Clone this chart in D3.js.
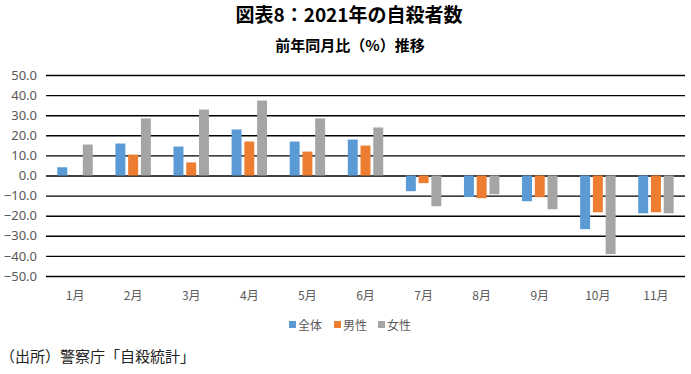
<!DOCTYPE html>
<html>
<head>
<meta charset="utf-8">
<script src="https://cdn.jsdelivr.net/npm/d3@7"></script>
<style>
  body { margin: 0; background: #fff; }
  text { font-family: "Noto Sans CJK JP", "Noto Sans", sans-serif; }
</style>
</head>
<body>
<svg id="chart" width="691" height="374"></svg>
<script>
// 月ラベル
const months = ['1月', '2月', '3月', '4月', '5月', '6月', '7月', '8月', '9月', '10月', '11月'];
const seriesNames = ['全体', '男性', '女性'];
const seriesColors = ['#5b9bd5', '#ed7d31', '#a5a5a5'];
// 前年同月比（%）
const total = [4.1, 15.9, 14.4, 22.9, 16.9, 17.9, -7.8, -10.7, -12.8, -26.7, -18.8];
const male = [0.0, 10.4, 6.5, 16.9, 11.9, 14.9, -3.8, -11.3, -10.8, -18.3, -18.3];
const female = [15.4, 28.4, 32.8, 37.3, 28.4, 23.9, -15.3, -9.3, -16.8, -39.1, -18.8];
const yTicks = [50, 40, 30, 20, 10, 0, -10, -20, -30, -40, -50];

const svg = d3.select('#chart');
const plotLeft = 46, plotRight = 685, plotTop = 75, plotBottom = 276;

let x = d3.scaleBand().domain(months).range([plotLeft, plotRight]).paddingInner(0.39).paddingOuter(0.195);
let xs = d3.scaleBand().domain(seriesNames).range([0, x.bandwidth()]).paddingInner(0.22);
let y = d3.scaleLinear().domain([-50, 50]).range([plotBottom, plotTop]);

// タイトル
svg.append('text').attr('x', 349).attr('y', 22).attr('text-anchor', 'middle')
    .attr('font-size', 19).attr('font-weight', 'bold').text('図表8：2021年の自殺者数');
svg.append('text').attr('x', 350).attr('y', 51).attr('text-anchor', 'middle')
    .attr('font-size', 15).attr('font-weight', 'bold').text('前年同月比（%）推移');

// グリッド
let yAxis = svg.append('g').attr('transform', 'translate(' + plotLeft + ',0)')
    .call(d3.axisLeft(y).tickValues(yTicks).tickSize(-(plotRight - plotLeft)).tickPadding(9).tickFormat(d3.format('.1f')));
yAxis.select('.domain').remove();
yAxis.selectAll('line').attr('stroke', '#000').attr('stroke-width', 1.4);
yAxis.selectAll('text').attr('fill', '#595959').attr('font-size', 13)
    .style('font-family', '"Noto Sans", sans-serif');

let xAxis = svg.append('g').attr('transform', 'translate(0,' + (plotBottom + 15) + ')')
    .call(d3.axisBottom(x).tickSize(0).tickPadding(0));
xAxis.select('.domain').remove();
xAxis.selectAll('text').attr('fill', '#595959').attr('font-size', 12);

// バー
let dataSets = [total, male, female];
dataSets.forEach((vals, si) => {
    svg.append('g').selectAll('rect').data(vals).enter().append('rect')
        .attr('x', (d, i) => x(months[i]) + xs(seriesNames[si]))
        .attr('width', xs.bandwidth())
        .attr('y', d => y(Math.max(d, 0)))
        .attr('height', d => Math.abs(y(d) - y(0)))
        .attr('fill', seriesColors[si]);
});

// 凡例
let legendX = [289, 334, 378];
let legend = svg.append('g');
seriesNames.forEach((name, i) => {
    legend.append('rect').attr('x', legendX[i]).attr('y', 321).attr('width', 7).attr('height', 7)
        .attr('fill', seriesColors[i]);
    legend.append('text').attr('x', legendX[i] + 9).attr('y', 330)
        .attr('font-size', 12).attr('fill', '#595959').text(name);
});

// 出所
svg.append('text').attr('x', 0).attr('y', 362).attr('font-size', 15).attr('fill', '#222')
    .text('（出所）警察庁「自殺統計」');
</script>
</body>
</html>
